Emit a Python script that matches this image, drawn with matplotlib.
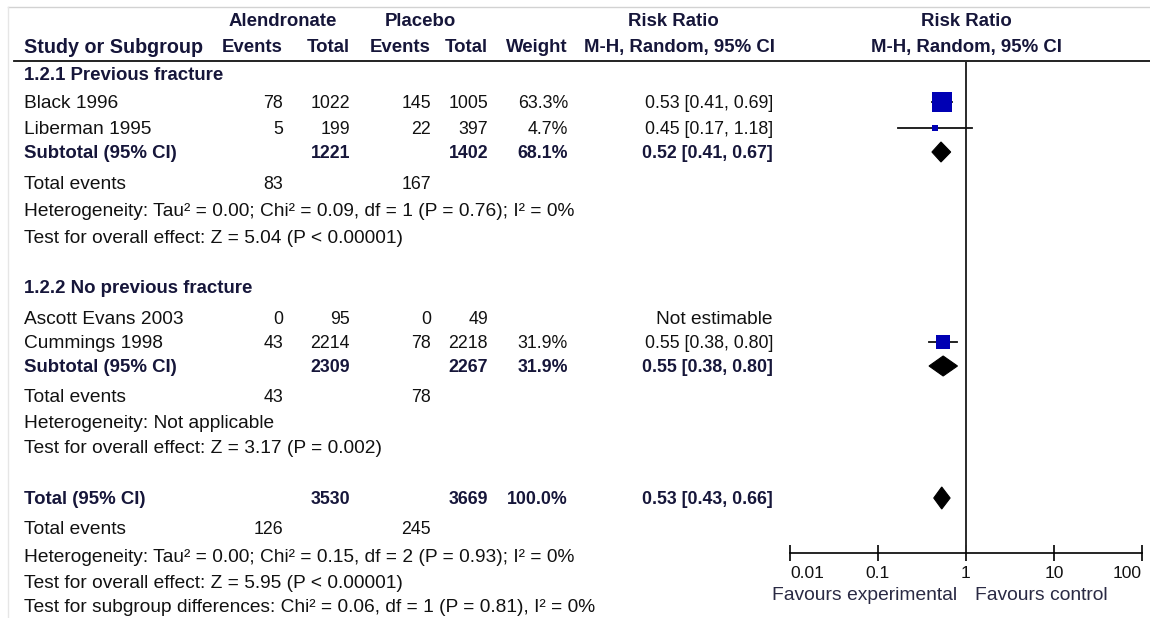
import numpy as np
import matplotlib
matplotlib.use("Agg")
import matplotlib.pyplot as plt
from matplotlib.patches import Polygon

plt.rcParams['font.family'] = ['Liberation Sans', 'DejaVu Sans']

# ---- study data -------------------------------------------------------------
studies = ["Black 1996", "Liberman 1995", "Ascott Evans 2003", "Cummings 1998"]
alen_events = [78, 5, 0, 43]
alen_total = [1022, 199, 95, 2214]
plac_events = [145, 22, 0, 78]
plac_total = [1005, 397, 49, 2218]
weights = [63.3, 4.7, None, 31.9]          # percent
rr = [0.53, 0.45, None, 0.55]
rr_lo = [0.41, 0.17, None, 0.38]
rr_hi = [0.69, 1.18, None, 0.80]

# pooled estimates: subgroup 1, subgroup 2, overall
pooled_names = ["Subtotal (95% CI)", "Subtotal (95% CI)", "Total (95% CI)"]
pooled_alen_total = [1221, 2309, 3530]
pooled_plac_total = [1402, 2267, 3669]
pooled_weight = [68.1, 31.9, 100.0]
pooled_rr = [0.52, 0.55, 0.53]
pooled_lo = [0.41, 0.38, 0.43]
pooled_hi = [0.67, 0.80, 0.66]

total_events_alen = [83, 43, 126]
total_events_plac = [167, 78, 245]

subgroup_titles = ["1.2.1 Previous fracture", "1.2.2 No previous fracture"]
heterogeneity = [
    "Heterogeneity: Tau\u00b2 = 0.00; Chi\u00b2 = 0.09, df = 1 (P = 0.76); I\u00b2 = 0%",
    "Heterogeneity: Not applicable",
    "Heterogeneity: Tau\u00b2 = 0.00; Chi\u00b2 = 0.15, df = 2 (P = 0.93); I\u00b2 = 0%",
]
overall_effect = [
    "Test for overall effect: Z = 5.04 (P < 0.00001)",
    "Test for overall effect: Z = 3.17 (P = 0.002)",
    "Test for overall effect: Z = 5.95 (P < 0.00001)",
]
subgroup_diff = "Test for subgroup differences: Chi\u00b2 = 0.06, df = 1 (P = 0.81), I\u00b2 = 0%"

tick_values = [0.01, 0.1, 1, 10, 100]
tick_labels = ["0.01", "0.1", "1", "10", "100"]
favours = ["Favours experimental", "Favours control"]

# ---- layout (pixel rows / columns) -----------------------------------------
W, H = 1150, 618
study_rows = [102, 128, 318, 342]
pooled_rows = [152, 366, 498]
tot_ev_rows = [183, 396, 528]
het_rows = [210, 422, 556]
eff_rows = [237, 447, 582]
title_rows = [74, 287]
subdiff_row = 606

x_label = 24
x_ae, x_at, x_pe, x_pt, x_w, x_rr = 283, 350, 431, 488, 568, 773

FS_TXT = 13.8     # labels and notes
FS_NUM = 12.8     # numeric columns
FS_HDR = 13.4     # column headers
TXT = "#111111"
BOLD = "#16163a"
SQUARE = "#0000b4"
TEXT_DY = 1.5     # nudge so glyphs sit centred on the row line

fig = plt.figure(figsize=(W / 100, H / 100), dpi=100)
ax = fig.add_axes([0, 0, 1, 1])
ax.set_xlim(0, W)
ax.set_ylim(H, 0)
ax.axis("off")

# plot area on a log scale
fx0, fx1 = 790, 1142
fa = fig.add_axes([fx0 / W, 0, (fx1 - fx0) / W, 1])
fa.set_xscale("log")
fa.set_xlim(0.01, 100)
fa.set_ylim(H, 0)
fa.patch.set_alpha(0)
for s in ["top", "left", "right"]:
    fa.spines[s].set_visible(False)
fa.spines["bottom"].set_position(("data", 553))
fa.spines["bottom"].set_linewidth(1.2)
fa.yaxis.set_visible(False)
fa.set_xticks(tick_values)
fa.set_xticklabels([])
fa.xaxis.set_minor_locator(matplotlib.ticker.NullLocator())
fa.tick_params(axis="x", direction="inout", length=12, width=1.2)


def t(x, y, s, ha="left", bold=False, color=None, size=FS_TXT):
    ax.text(x, y + TEXT_DY, s, ha=ha, va="center", fontsize=size,
            fontweight="bold" if bold else "normal",
            color=color or (BOLD if bold else TXT))


# frame lines
ax.plot([8, W], [6.5, 6.5], color="#d2d2d2", lw=1.0)
ax.plot([8, 8], [6.5, H], color="#e6e6e6", lw=1.0)
ax.plot([14, W], [61, 61], color="#111111", lw=1.3)

# headers
t(283, 20, "Alendronate", ha="center", bold=True, size=FS_HDR)
t(420, 20, "Placebo", ha="center", bold=True, size=FS_HDR)
t(673, 20, "Risk Ratio", ha="center", bold=True, size=FS_HDR)
t(966, 20, "Risk Ratio", ha="center", bold=True, size=FS_HDR)
t(x_label, 46, "Study or Subgroup", bold=True, size=14.2)
t(x_ae, 46, "Events", ha="right", bold=True, size=FS_HDR)
t(x_at, 46, "Total", ha="right", bold=True, size=FS_HDR)
t(x_pe, 46, "Events", ha="right", bold=True, size=FS_HDR)
t(x_pt, 46, "Total", ha="right", bold=True, size=FS_HDR)
t(x_w, 46, "Weight", ha="right", bold=True, size=FS_HDR)
t(x_rr + 2, 46, "M-H, Random, 95% CI", ha="right", bold=True, size=FS_HDR)
t(966, 46, "M-H, Random, 95% CI", ha="center", bold=True, size=FS_HDR)

# subgroup titles
for title, y in zip(subgroup_titles, title_rows):
    t(x_label, y, title, bold=True, size=13.4)

# individual studies
for i, name in enumerate(studies):
    y = study_rows[i]
    t(x_label, y, name)
    t(x_ae, y, str(alen_events[i]), ha="right", size=FS_NUM)
    t(x_at, y, str(alen_total[i]), ha="right", size=FS_NUM)
    t(x_pe, y, str(plac_events[i]), ha="right", size=FS_NUM)
    t(x_pt, y, str(plac_total[i]), ha="right", size=FS_NUM)
    if rr[i] is None:
        t(x_rr, y, "Not estimable", ha="right")
        continue
    t(x_w, y, f"{weights[i]:.1f}%", ha="right", size=FS_NUM)
    t(x_rr, y, f"{rr[i]:.2f} [{rr_lo[i]:.2f}, {rr_hi[i]:.2f}]", ha="right",
      size=FS_NUM)
    fa.plot([rr_lo[i], rr_hi[i]], [y, y], color="#111111", lw=1.3, zorder=3)
    side_px = 2.45 * np.sqrt(weights[i])
    fa.plot([rr[i]], [y], marker="s", linestyle="none",
            markersize=side_px * 0.72, color=SQUARE, markeredgewidth=0,
            zorder=4)

# pooled rows
for k in range(3):
    y = pooled_rows[k]
    t(x_label, y, pooled_names[k], bold=True, size=13.4)
    t(x_at, y, str(pooled_alen_total[k]), ha="right", bold=True, size=FS_NUM)
    t(x_pt, y, str(pooled_plac_total[k]), ha="right", bold=True, size=FS_NUM)
    t(x_w, y, f"{pooled_weight[k]:.1f}%", ha="right", bold=True, size=FS_NUM)
    t(x_rr, y, f"{pooled_rr[k]:.2f} [{pooled_lo[k]:.2f}, {pooled_hi[k]:.2f}]",
      ha="right", bold=True, size=FS_NUM)
    hh = 10 if k < 2 else 11
    diamond = Polygon([(pooled_lo[k], y), (pooled_rr[k], y - hh),
                       (pooled_hi[k], y), (pooled_rr[k], y + hh)],
                      closed=True, facecolor="black", edgecolor="black",
                      lw=0.8, zorder=4)
    fa.add_patch(diamond)

    t(x_label, tot_ev_rows[k], "Total events")
    t(x_ae, tot_ev_rows[k], str(total_events_alen[k]), ha="right", size=FS_NUM)
    t(x_pe, tot_ev_rows[k], str(total_events_plac[k]), ha="right", size=FS_NUM)
    t(x_label, het_rows[k], heterogeneity[k])
    t(x_label, eff_rows[k], overall_effect[k])

t(x_label, subdiff_row, subgroup_diff)

# line of no effect
fa.plot([1, 1], [61, 553], color="#2a2a2a", lw=1.4, zorder=2)

# axis labels
tick_ha = ["left", "center", "center", "center", "right"]
for v, lab, ha in zip(tick_values, tick_labels, tick_ha):
    fa.text(v, 573, lab, ha=ha, va="center", fontsize=12.6, color=TXT)
fa.text(10 ** -0.1, 595, favours[0], ha="right", va="center", fontsize=13.9,
        color="#2a2a44")
fa.text(10 ** 0.1, 595, favours[1], ha="left", va="center", fontsize=13.9,
        color="#2a2a44")

fig.savefig("out.png", dpi=100)
